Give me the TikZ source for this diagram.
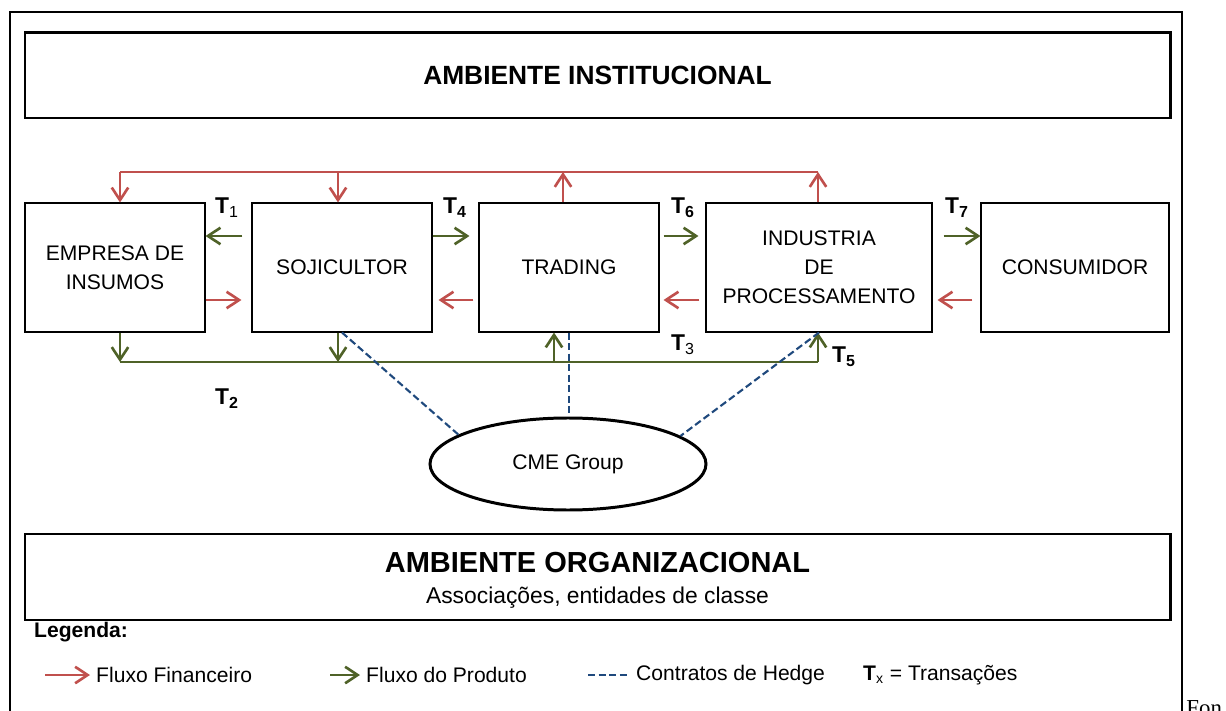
\documentclass[tikz,border=0pt]{standalone}
\usepackage{fontspec}
\setmainfont{Liberation Sans}
\newfontfamily\fonteserif{Liberation Serif}
\usepackage{xcolor}
\usetikzlibrary{arrows.meta,shapes,positioning}
\definecolor{finred}{RGB}{192,80,77}
\definecolor{prodgreen}{RGB}{79,98,40}
\definecolor{hedgeblue}{RGB}{31,73,125}

\begin{document}
\begin{tikzpicture}[
    envbox/.style={rectangle, draw, line width=1.7pt, minimum width=22.9cm},
    box/.style={rectangle, draw, line width=0.6pt, minimum height=2.58cm, align=center, font=\fontsize{12}{16.5}\selectfont},
    finarrow/.style={-{Straight Barb[length=2.5mm,width=3.3mm]}, line width=1.5pt, draw=finred},
    prodarrow/.style={-{Straight Barb[length=2.5mm,width=3.3mm]}, line width=1.5pt, draw=prodgreen},
    hedge/.style={draw=hedgeblue, line width=1.2pt, dash pattern=on 4pt off 2pt},
    tlabel/.style={font=\fontsize{13}{15}\selectfont\bfseries},
    legtext/.style={anchor=west, font=\fontsize{12}{14}\selectfont}
]
    \useasboundingbox (0,0) rectangle (24.52,14.2);
    % moldura
    \draw[line width=0.6pt] (0.2,-0.2) -- (0.2,13.96) -- (23.64,13.96) -- (23.64,-0.2);

    \node[envbox, minimum height=1.7cm, font=\fontsize{15}{18}\selectfont\bfseries] (inst) at (11.95,12.69) {AMBIENTE INSTITUCIONAL};

    \node[box, minimum width=3.6cm] (emp) at (2.3,8.85) {EMPRESA DE\\INSUMOS};
    \node[box, minimum width=3.6cm] (soj) at (6.84,8.85) {SOJICULTOR};
    \node[box, minimum width=3.6cm] (trd) at (11.38,8.85) {TRADING};
    \node[box, minimum width=4.52cm] (ind) at (16.38,8.85) {INDUSTRIA\\DE\\PROCESSAMENTO};
    \node[box, minimum width=3.76cm] (con) at (21.5,8.85) {CONSUMIDOR};

    \node[ellipse, draw, line width=1.7pt, minimum width=5.52cm, minimum height=1.84cm, font=\fontsize{12}{14}\selectfont] (cme) at (11.36,4.92) {CME Group};

    % fluxo financeiro (topo)
    \coordinate (rEmp) at (2.4,10.76);
    \coordinate (rSoj) at (6.76,10.76);
    \coordinate (rTrd) at (11.26,10.76);
    \coordinate (rInd) at (16.36,10.76);
    \draw[line width=1.5pt, finred] (rEmp) -- (rInd);
    \draw[finarrow] (rEmp) -- (rEmp |- emp.north);
    \draw[finarrow] (rSoj) -- (rSoj |- soj.north);
    \draw[finarrow] (rTrd |- trd.north) -- (rTrd);
    \draw[finarrow] (rInd |- ind.north) -- (rInd);

    % fluxo do produto (base)
    \coordinate (gEmp) at (2.4,6.96);
    \coordinate (gSoj) at (6.76,6.96);
    \coordinate (gTrd) at (11.08,6.96);
    \coordinate (gInd) at (16.36,6.96);
    \draw[line width=1.5pt, prodgreen] (gEmp) -- (gInd);
    \draw[prodarrow] (gEmp |- emp.south) -- (gEmp);
    \draw[prodarrow] (gSoj |- soj.south) -- (gSoj);
    \draw[prodarrow] (gTrd) -- (gTrd |- trd.south);
    \draw[prodarrow] (gInd) -- (gInd |- ind.south);

    % setas entre as caixas
    \draw[prodarrow, shorten <=1.8mm] ([yshift=6.3mm]soj.west) -- ([yshift=6.3mm]emp.east);
    \draw[finarrow, shorten >=2mm] ([yshift=-6.5mm]emp.east) -- ([yshift=-6.5mm]soj.west);
    \draw[prodarrow, shorten >=1.8mm] ([yshift=6.3mm]soj.east) -- ([yshift=6.3mm]trd.west);
    \draw[finarrow, shorten <=1mm, shorten >=1.2mm] ([yshift=-6.5mm]trd.west) -- ([yshift=-6.5mm]soj.east);
    \draw[prodarrow, shorten <=0.8mm, shorten >=1.4mm] ([yshift=6.3mm]trd.east) -- ([yshift=6.3mm]ind.west);
    \draw[finarrow, shorten <=1.2mm, shorten >=0.8mm] ([yshift=-6.5mm]ind.west) -- ([yshift=-6.5mm]trd.east);
    \draw[prodarrow, shorten <=2.2mm] ([yshift=6.3mm]ind.east) -- ([yshift=6.3mm]con.west);
    \draw[finarrow, shorten <=1.6mm, shorten >=1mm] ([yshift=-6.5mm]con.west) -- ([yshift=-6.5mm]ind.east);

    % contratos de hedge
    \draw[hedge] (soj.south) -- (cme.165);
    \draw[hedge] (trd.south) -- (trd.south |- cme.north);
    \draw[hedge] (ind.south) -- (cme.14);

    % transacoes
    \node[tlabel] (t1) at (4.54,10.04) {T\textsubscript{\mdseries 1}};
    \node[tlabel] (t4) at (9.1,10.04) {T\textsubscript{4}};
    \node[tlabel] (t6) at (13.66,10.04) {T\textsubscript{6}};
    \node[tlabel] (t7) at (19.14,10.04) {T\textsubscript{7}};
    \node[tlabel] (t3) at (13.66,7.3) {T\textsubscript{\mdseries 3}};
    \node[tlabel] (t5) at (16.88,7.06) {T\textsubscript{5}};
    \node[tlabel] (t2) at (4.54,6.22) {T\textsubscript{2}};

    \node[envbox, minimum height=1.72cm] (org) at (11.95,2.66) {};
    \node[font=\fontsize{16.5}{18}\selectfont\bfseries] (orgtit) at (11.95,2.94) {AMBIENTE ORGANIZACIONAL};
    \node[font=\fontsize{13}{15}\selectfont] (orgsub) at (11.95,2.24) {Associações, entidades de classe};

    % legenda
    \node[legtext, font=\fontsize{12}{14}\selectfont\bfseries] (leg) at (0.56,1.56) {Legenda:};
    \node[legtext] (lfin) at (1.8,0.7) {Fluxo Financeiro};
    \node[legtext] (lprod) at (7.2,0.7) {Fluxo do Produto};
    \node[legtext] (lhedge) at (12.6,0.7) {Contratos de Hedge};
    \node[legtext] (ltx) at (17.14,0.7) {\textbf{T}\textsubscript{x} = Transações};
    \coordinate (lf) at (0.9,0.7);
    \coordinate (lp) at (6.6,0.7);
    \coordinate (lh) at (11.76,0.7);
    \draw[finarrow] (lf) -- (lfin.west);
    \draw[prodarrow] (lp) -- (lprod.west);
    \draw[hedge] (lh) -- (lhedge.west);

    \node[anchor=north west, inner sep=0pt, font=\fonteserif\fontsize{13}{15}\selectfont] (fonte) at (23.72,0.2) {Fon};
\end{tikzpicture}
\end{document}
